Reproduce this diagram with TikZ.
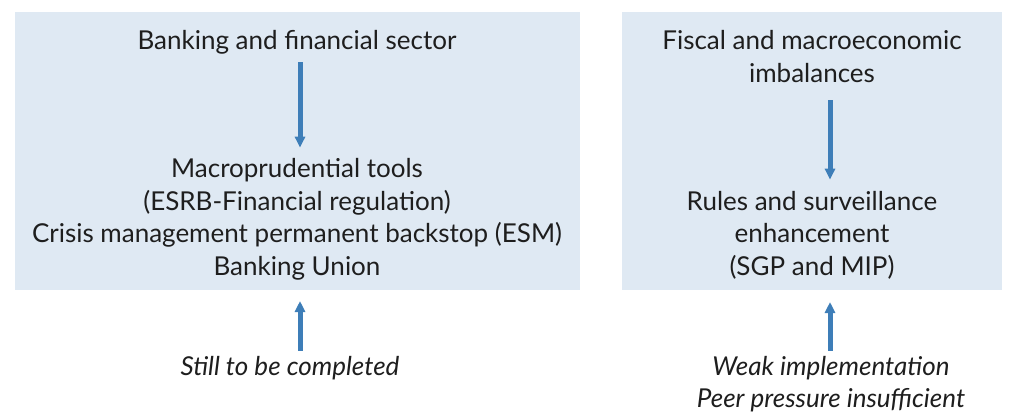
\documentclass[tikz,border=0pt]{standalone}
\usepackage{fontspec}
\setmainfont{Lato}
\usetikzlibrary{arrows.meta}
\definecolor{panelblue}{RGB}{223,233,243}
\definecolor{arrowblue}{RGB}{62,126,184}
\definecolor{ink}{RGB}{30,30,30}
\begin{document}
\begin{tikzpicture}[x=1pt,y=-1pt,
  panel/.style={fill=panelblue,draw=none,inner sep=0,outer sep=0},
  label/.style={text=ink,font=\fontsize{26}{32.5}\selectfont,align=center,inner sep=0,anchor=base},
  note/.style={label,font=\fontsize{26}{32.5}\selectfont\itshape},
  flow/.style={draw=arrowblue,line width=5pt,-{Triangle[width=10pt,length=11pt]}}]
  \useasboundingbox (0,0) rectangle (1018,412);
  % shaded panels
  \node[panel,minimum width=565pt,minimum height=278pt] (lpanel) at (297.5,151) {};
  \node[panel,minimum width=380pt,minimum height=278pt] (rpanel) at (812,151) {};
  % x positions of the two arrow columns
  \coordinate (lx) at (300,0);
  \coordinate (rx) at (830,0);
  % left column (anchor base = baseline of the last line)
  \node[label] (ltitle) at (297,50) {Banking and financial sector};
  \node[label] (ltools) at (297,275) {Macroprudential tools\\(ESRB-Financial regulation)\\Crisis management permanent backstop (ESM)\\Banking Union};
  \node[note] (lnote) at (290,375) {Still to be completed};
  % right column
  \node[label] (rtitle) at (812,82.5) {Fiscal and macroeconomic\\imbalances};
  \node[label] (rrules) at (812,275) {Rules and surveillance\\enhancement\\(SGP and MIP)};
  \node[note] (rnote) at (831,407.5) {Weak implementation\\Peer pressure insufficient};
  % connectors
  \draw[flow,shorten <=7.5pt,shorten >=10.5pt] (ltitle.south -| lx) -- (ltools.north -| lx);
  \draw[flow,shorten <=17.5pt,shorten >=11pt] (rtitle.south -| rx) -- (rrules.north -| rx);
  \draw[flow,shorten <=5pt,shorten >=11pt] (lnote.north -| lx) -- (lpanel.south -| lx);
  \draw[flow,shorten <=5pt,shorten >=12pt] (rnote.north -| rx) -- (rpanel.south -| rx);
\end{tikzpicture}
\end{document}
